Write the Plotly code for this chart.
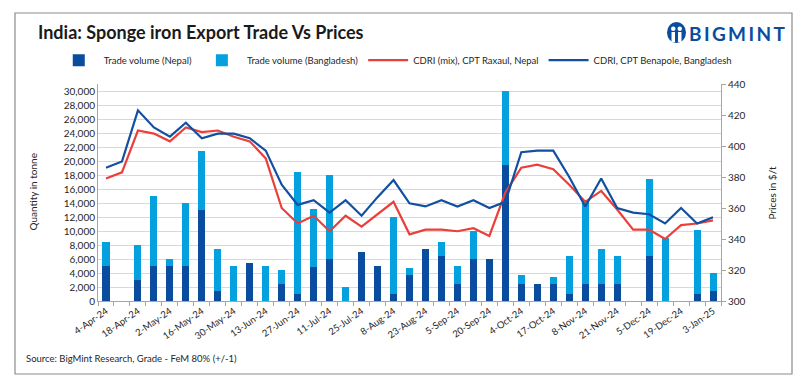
import plotly.graph_objects as go

dates = ["4-Apr-24","11-Apr-24","18-Apr-24","25-Apr-24","2-May-24","9-May-24","16-May-24","23-May-24",
         "30-May-24","6-Jun-24","13-Jun-24","20-Jun-24","27-Jun-24","4-Jul-24","11-Jul-24","18-Jul-24",
         "25-Jul-24","1-Aug-24","8-Aug-24","16-Aug-24","23-Aug-24","30-Aug-24","5-Sep-24","13-Sep-24",
         "20-Sep-24","27-Sep-24","4-Oct-24","11-Oct-24","17-Oct-24","25-Oct-24","8-Nov-24","14-Nov-24",
         "21-Nov-24","28-Nov-24","5-Dec-24","12-Dec-24","19-Dec-24","27-Dec-24","3-Jan-25"]

vol_nepal = [5000, 0, 3000, 5000, 5000, 5000, 13000, 1500, 0, 5500, 0, 2500, 1000, 4800, 6000, 0,
             7000, 5000, 1000, 3700, 7400, 6500, 2500, 6000, 6000, 19500, 2500, 2500, 2500, 1000,
             2500, 2500, 2500, 0, 6400, 0, 0, 1000, 1500]
vol_bangladesh = [3500, 0, 5000, 10000, 1000, 9000, 8500, 6000, 5000, 0, 5000, 2000, 17500, 8400, 12000, 2000,
                  0, 0, 11000, 1000, 0, 2000, 2500, 4000, 0, 10500, 1200, 0, 1000, 5500,
                  12000, 5000, 4000, 0, 11100, 9000, 0, 9100, 2500]
price_raxaul = [379, 383, 410, 408, 403, 412, 409, 410, 406, 403, 392, 360, 350, 355, 345, 355,
                348, 356, 364, 343, 346, 346, 345, 347, 342, 370, 386, 388, 385, 375,
                364, 371, 359, 346, 346, 340, 349, 350, 352]
price_benapole = [386, 390, 423, 412, 406, 415, 405, 408, 408, 405, 397, 375, 362, 365, 357, 365,
                  355, 367, 378, 363, 361, 365, 361, 365, 360, 364, 396, 397, 397, 380,
                  361, 379, 360, 357, 356, 350, 360, 350, 354]

left_ticks = list(range(0, 30001, 2000))
right_ticks = list(range(300, 441, 20))
label_dates = dates[::2]

FONT = "Lato"
C_NEPAL = "#0a4c9e"
C_BANG = "#04a1de"
C_RED = "#ec3f3a"
C_BLUE = "#1150a0"

fig = go.Figure()
fig.add_trace(go.Bar(x=dates, y=vol_nepal, name="Trade volume (Nepal)", marker_color=C_NEPAL,
                     marker_line_width=0))
fig.add_trace(go.Bar(x=dates, y=vol_bangladesh, name="Trade volume (Bangladesh)", marker_color=C_BANG,
                     marker_line_width=0))
fig.add_trace(go.Scatter(x=dates, y=price_raxaul, name="CDRI (mix), CPT Raxaul, Nepal", mode="lines",
                         line=dict(color=C_RED, width=2.2), yaxis="y2"))
fig.add_trace(go.Scatter(x=dates, y=price_benapole, name="CDRI, CPT Benapole, Bangladesh", mode="lines",
                         line=dict(color=C_BLUE, width=2.2), yaxis="y2"))
# invisible trace so the boundary-tick axis is drawn
fig.add_trace(go.Scatter(x=[0], y=[0], xaxis="x2", yaxis="y", mode="markers",
                         marker=dict(opacity=0), showlegend=False, hoverinfo="skip"))

n = len(dates)
fig.update_layout(
    width=809, height=390,
    margin=dict(l=98, r=88, t=84, b=89, autoexpand=False),
    paper_bgcolor="white", plot_bgcolor="white",
    barmode="stack", bargap=0.56,
    font=dict(family=FONT, size=10, color="#262626"),
    showlegend=True,
    legend=dict(orientation="h", x=-0.071, y=1.11, xanchor="left", yanchor="middle",
                font=dict(size=9.5, color="#262626"), traceorder="normal",
                itemwidth=40, bgcolor="rgba(0,0,0,0)"),
    xaxis=dict(type="category", tickmode="array", tickvals=label_dates, ticktext=label_dates,
               tickangle=-35, ticks="", showgrid=False, showline=True, linecolor="#a6a6a6",
               linewidth=1, tickfont=dict(size=9.5, color="#262626"), range=[-0.5, n - 0.5]),
    xaxis2=dict(overlaying="x", range=[-0.5, n - 0.5], tickmode="linear", tick0=-0.5, dtick=1,
                ticks="outside", ticklen=4, tickcolor="#a6a6a6", showticklabels=False,
                showgrid=False, showline=False, zeroline=False, anchor="y", side="bottom"),
    yaxis=dict(range=[0, 31000], tickmode="array", tickvals=left_ticks, tickformat=",",
               showgrid=True, gridcolor="#ddd9c3", gridwidth=1, zeroline=False,
               showline=True, linecolor="#a6a6a6", ticks="", tickfont=dict(size=10, color="#262626")),
    yaxis2=dict(range=[300, 440], tickmode="array", tickvals=right_ticks, overlaying="y", side="right",
                showgrid=False, zeroline=False, showline=True, linecolor="#a6a6a6", ticks="outside",
                ticklen=4, tickcolor="#a6a6a6", tickfont=dict(size=10, color="#262626")),
)

W, H = 623.0, 217.0
def px(x):
    return (x - 98) / W
def py(y):
    return (301 - y) / H

shapes = [
    dict(type="rect", xref="paper", yref="paper", x0=px(15), x1=px(792), y0=py(374), y1=py(13),
         line=dict(color="#8c8c8c", width=1.2), fillcolor="rgba(0,0,0,0)", layer="below"),
    # logo icon
    dict(type="circle", xref="paper", yref="paper", x0=px(667), x1=px(686), y0=py(43), y1=py(22),
         line=dict(color=C_NEPAL, width=0), fillcolor=C_NEPAL),
    dict(type="circle", xref="paper", yref="paper", x0=px(671), x1=px(675.5), y0=py(31), y1=py(26.5),
         line=dict(width=0), fillcolor="white"),
    dict(type="circle", xref="paper", yref="paper", x0=px(677.5), x1=px(682), y0=py(31), y1=py(26.5),
         line=dict(width=0), fillcolor="white"),
    dict(type="rect", xref="paper", yref="paper", x0=px(671.5), x1=px(675), y0=py(42), y1=py(32),
         line=dict(width=0), fillcolor="white"),
    dict(type="rect", xref="paper", yref="paper", x0=px(678), x1=px(681.5), y0=py(42), y1=py(32),
         line=dict(width=0), fillcolor="white"),
]

annotations = [
    dict(text="<b>India: Sponge iron Export Trade Vs Prices</b>", xref="paper", yref="paper",
         x=px(36), y=py(32), xanchor="left", yanchor="middle", showarrow=False,
         font=dict(size=18, color="#1a1a1a", family=FONT)),
    dict(text="<b>B\u2009I\u2009G\u2009M\u2009I\u2009N\u2009T</b>", xref="paper", yref="paper",
         x=px(687), y=py(33), xanchor="left", yanchor="middle", showarrow=False,
         font=dict(size=19, color=C_NEPAL, family=FONT)),
    dict(text="Quantity in tonne", xref="paper", yref="paper", x=px(32), y=0.5, textangle=-90,
         xanchor="center", yanchor="middle", showarrow=False, font=dict(size=10, color="#262626")),
    dict(text="Prices in $/t", xref="paper", yref="paper", x=px(771), y=0.5, textangle=-90,
         xanchor="center", yanchor="middle", showarrow=False, font=dict(size=10, color="#262626")),
    dict(text="Source: BigMint Research, Grade - FeM 80% (+/-1)", xref="paper", yref="paper",
         x=px(24), y=py(358), xanchor="left", yanchor="middle", showarrow=False,
         font=dict(size=9.5, color="#262626")),
]
fig.update_layout(shapes=shapes, annotations=annotations)

fig.write_html("out.html", config={"displayModeBar": False},
               post_script="document.body.style.margin='0';document.body.style.overflow='hidden';")
